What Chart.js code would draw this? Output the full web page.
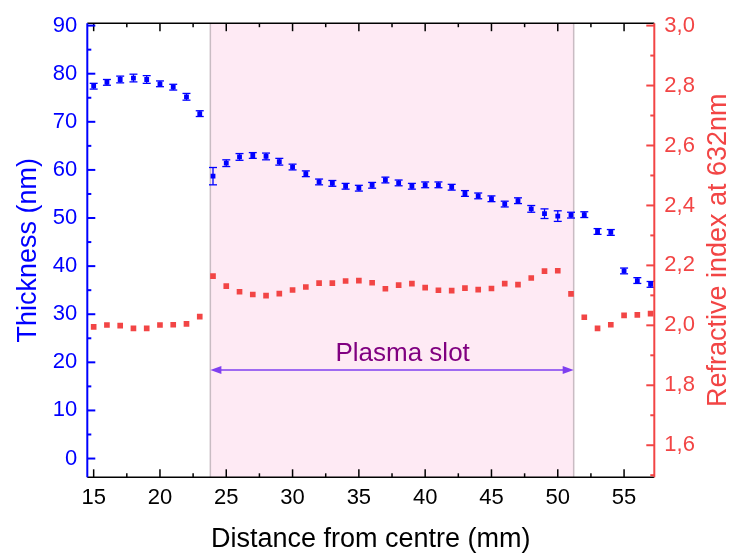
<!DOCTYPE html>
<html>
<head>
<meta charset="utf-8">
<script src="https://cdn.jsdelivr.net/npm/chart.js@4.4.0/dist/chart.umd.min.js"></script>
<style>
html, body { margin: 0; padding: 0; background: #fff; }
#wrap { width: 732px; height: 555px; }
</style>
</head>
<body>
<div id="wrap"><canvas id="chart"></canvas></div>
<script>
// data
const distance = [15, 16, 17, 18, 19, 20, 21, 22, 23, 24, 25, 26, 27, 28, 29, 30, 31, 32, 33, 34, 35, 36,
  37, 38, 39, 40, 41, 42, 43, 44, 45, 46, 47, 48, 49, 50, 51, 52, 53, 54, 55, 56, 57];
const thickness = [77.4, 78.2, 78.8, 79.1, 78.8, 77.9, 77.2, 75.2, 71.7, 58.7, 61.4, 62.7, 63.0, 62.8,
  61.7, 60.6, 59.2, 57.5, 57.2, 56.6, 56.2, 56.8, 57.9, 57.3, 56.6, 56.9, 56.9, 56.4, 55.1, 54.6, 54.0,
  52.9, 53.6, 51.9, 50.9, 50.4, 50.6, 50.7, 47.2, 47.0, 39.0, 37.0, 36.2];
const thicknessErr = [0.6, 0.6, 0.7, 0.8, 0.8, 0.6, 0.6, 0.7, 0.6, 1.8, 0.7, 0.7, 0.6, 0.7, 0.7, 0.6,
  0.6, 0.6, 0.6, 0.6, 0.6, 0.6, 0.6, 0.6, 0.6, 0.6, 0.6, 0.6, 0.6, 0.6, 0.6, 0.6, 0.6, 0.7, 1.0, 1.1,
  0.6, 0.6, 0.6, 0.6, 0.6, 0.6, 0.6];
const refractiveIndex = [1.995, 2.001, 1.999, 1.990, 1.990, 2.001, 2.002, 2.005, 2.029, 2.164, 2.131,
  2.112, 2.103, 2.099, 2.106, 2.118, 2.128, 2.141, 2.141, 2.148, 2.149, 2.142, 2.122, 2.134, 2.139,
  2.126, 2.117, 2.116, 2.124, 2.119, 2.123, 2.139, 2.136, 2.158, 2.181, 2.182, 2.105, 2.027, 1.990,
  2.002, 2.033, 2.035, 2.039];

const distanceTicks = [15, 20, 25, 30, 35, 40, 45, 50, 55];
const thicknessTicks = [0, 10, 20, 30, 40, 50, 60, 70, 80, 90];
const indexTicks = [1.6, 1.8, 2.0, 2.2, 2.4, 2.6, 2.8, 3.0];

const slotRange = [23.8, 51.2];
const slotArrowAt = 18.4;
const slotLabel = 'Plasma slot';
const slotLabelAt = [38.3, 21.7];

const BLUE = '#0000ff';
const RED = '#f24545';
const FONT = '"Liberation Sans", Arial, sans-serif';

function line(ctx, x1, y1, x2, y2) {
  ctx.beginPath();
  ctx.moveTo(x1, y1);
  ctx.lineTo(x2, y2);
  ctx.stroke();
}

// pink slot band + arrow and label
const slotPlugin = {
  id: 'slot',
  beforeDatasetsDraw(chart) {
    const {ctx, chartArea: a, scales: {x, y}} = chart;
    const x1 = x.getPixelForValue(slotRange[0]);
    const x2 = x.getPixelForValue(slotRange[1]);
    ctx.save();
    ctx.fillStyle = '#feeaf4';
    ctx.fillRect(x1, a.top, x2 - x1, a.bottom - a.top);
    ctx.strokeStyle = '#c9bcc3';
    ctx.lineWidth = 1.5;
    line(ctx, x1, a.top, x1, a.bottom);
    line(ctx, x2, a.top, x2, a.bottom);

    const ay = y.getPixelForValue(slotArrowAt);
    ctx.strokeStyle = '#7f3ff0';
    ctx.fillStyle = '#7f3ff0';
    ctx.lineWidth = 1.5;
    line(ctx, x1 + 6, ay, x2 - 6, ay);
    ctx.beginPath();
    ctx.moveTo(x1, ay); ctx.lineTo(x1 + 11, ay - 4); ctx.lineTo(x1 + 11, ay + 4); ctx.closePath();
    ctx.fill();
    ctx.beginPath();
    ctx.moveTo(x2, ay); ctx.lineTo(x2 - 11, ay - 4); ctx.lineTo(x2 - 11, ay + 4); ctx.closePath();
    ctx.fill();

    ctx.fillStyle = '#800080';
    ctx.font = '26px ' + FONT;
    ctx.textAlign = 'center';
    ctx.textBaseline = 'middle';
    ctx.fillText(slotLabel, x.getPixelForValue(slotLabelAt[0]), y.getPixelForValue(slotLabelAt[1]));
    ctx.restore();
  }
};

// error bars on the thickness series
const errorPlugin = {
  id: 'errorBars',
  afterDatasetsDraw(chart) {
    const {ctx, scales: {y}} = chart;
    const meta = chart.getDatasetMeta(0);
    ctx.save();
    ctx.strokeStyle = BLUE;
    ctx.lineWidth = 1.3;
    meta.data.forEach((pt, i) => {
      const top = y.getPixelForValue(thickness[i] + thicknessErr[i]);
      const bot = y.getPixelForValue(thickness[i] - thicknessErr[i]);
      line(ctx, pt.x, top, pt.x, bot);
      line(ctx, pt.x - 4, top, pt.x + 4, top);
      line(ctx, pt.x - 4, bot, pt.x + 4, bot);
    });
    ctx.restore();
  }
};

// axis lines with inward ticks, right axis title
const framePlugin = {
  id: 'frame',
  afterDraw(chart) {
    const {ctx, chartArea: a, scales: {x, y, y2}} = chart;
    ctx.save();
    ctx.strokeStyle = '#000';
    ctx.lineWidth = 1.5;
    line(ctx, a.left, a.bottom, a.right, a.bottom);
    line(ctx, a.left, a.top, a.right, a.top);
    for (let v = 15; v <= x.max; v += 2.5) {
      const px = x.getPixelForValue(v);
      const len = v % 5 === 0 ? 8 : 4;
      line(ctx, px, a.bottom, px, a.bottom - len);
      line(ctx, px, a.top, px, a.top + len);
    }

    ctx.strokeStyle = BLUE;
    ctx.lineWidth = 2;
    line(ctx, a.left, a.top, a.left, a.bottom);
    for (let v = 0; v <= y.max; v += 5) {
      const py = y.getPixelForValue(v);
      line(ctx, a.left, py, a.left + (v % 10 === 0 ? 8 : 4), py);
    }

    ctx.strokeStyle = RED;
    line(ctx, a.right, a.top, a.right, a.bottom);
    for (let k = 15; k <= 30; k++) {
      const py = y2.getPixelForValue(k / 10);
      line(ctx, a.right, py, a.right - (k % 2 === 0 ? 8 : 4), py);
    }

    ctx.fillStyle = RED;
    ctx.font = '27px ' + FONT;
    ctx.textAlign = 'center';
    ctx.textBaseline = 'middle';
    ctx.translate(719, (a.top + a.bottom) / 2);
    ctx.rotate(-Math.PI / 2);
    ctx.fillText('Refractive index at 632nm', 0, 0);
    ctx.restore();
  }
};

const ctx = document.getElementById('chart').getContext('2d');
const chart = new Chart(ctx, {
  type: 'scatter',
  data: {
    datasets: [{
      data: distance.map((d, i) => ({x: d, y: thickness[i]})),
      yAxisID: 'y',
      pointStyle: 'rect',
      pointRadius: 3.4,
      backgroundColor: BLUE,
      borderColor: BLUE,
      borderWidth: 0
    }, {
      data: distance.map((d, i) => ({x: d, y: refractiveIndex[i]})),
      yAxisID: 'y2',
      pointStyle: 'rect',
      pointRadius: 4,
      backgroundColor: RED,
      borderColor: RED,
      borderWidth: 0
    }]
  },
  options: {
    responsive: true,
    maintainAspectRatio: false,
    animation: false,
    layout: { padding: { top: 18.5, left: 0, right: 0, bottom: 0 } },
    plugins: { legend: { display: false }, tooltip: { enabled: false } },
    scales: {
      x: {
        type: 'linear',
        min: 14.52,
        max: 57.28,
        afterBuildTicks: s => { s.ticks = distanceTicks.map(v => ({value: v})); },
        afterFit: s => { s.height = 77.7; },
        grid: { display: false, drawTicks: false },
        border: { display: false },
        ticks: { color: '#000', padding: 7, font: { family: FONT, size: 22 } },
        title: {
          display: true,
          text: 'Distance from centre (mm)',
          color: '#000',
          font: { family: FONT, size: 27, lineHeight: 1 },
          padding: { top: 0, bottom: 2 }
        }
      },
      y: {
        position: 'left',
        min: -3.9,
        max: 90.5,
        afterBuildTicks: s => { s.ticks = thicknessTicks.map(v => ({value: v})); },
        afterFit: s => { s.width = 87.3; },
        grid: { display: false, drawTicks: false },
        border: { display: false },
        ticks: { color: BLUE, padding: 10, font: { family: FONT, size: 22 } },
        title: {
          display: true,
          text: 'Thickness (nm)',
          color: BLUE,
          font: { family: FONT, size: 27, lineHeight: 1 },
          padding: { top: 15, bottom: 0 }
        }
      },
      y2: {
        position: 'right',
        min: 1.493,
        max: 3.008,
        afterBuildTicks: s => { s.ticks = indexTicks.map(v => ({value: v})); },
        afterFit: s => { s.width = 77.7; },
        grid: { display: false, drawTicks: false },
        border: { display: false },
        ticks: {
          color: RED,
          padding: 10,
          font: { family: FONT, size: 22 },
          callback: v => v.toFixed(1).replace('.', ',')
        }
      }
    }
  },
  plugins: [slotPlugin, errorPlugin, framePlugin]
});
</script>
</body>
</html>
